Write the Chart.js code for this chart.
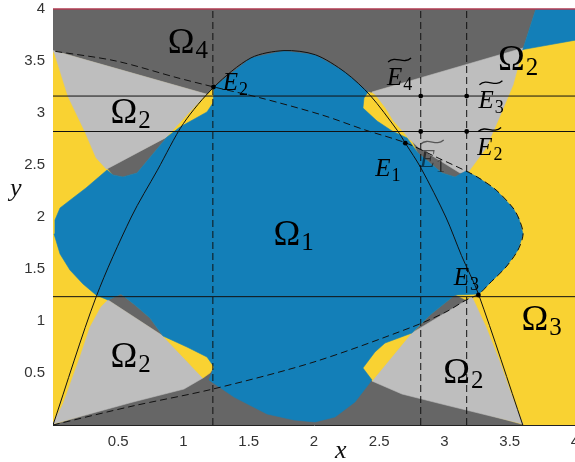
<!DOCTYPE html>
<html>
<head>
<meta charset="utf-8">
<script src="https://cdn.jsdelivr.net/npm/chart.js@4.4.0/dist/chart.umd.min.js"></script>
<style>
html, body { margin: 0; padding: 0; background: #fff; overflow: hidden; }
#wrap { width: 600px; height: 462px; }
</style>
</head>
<body>
<div id="wrap"><canvas id="regions" width="600" height="462"></canvas></div>
<script>
// ticks //
const xTicks = [0.5, 1, 1.5, 2, 2.5, 3, 3.5, 4];
const xTickLabels = ['0.5', '1', '1.5', '2', '2.5', '3', '3.5', '4'];
const yTicks = [0.5, 1, 1.5, 2, 2.5, 3, 3.5, 4];
const yTickLabels = ['0.5', '1', '1.5', '2', '2.5', '3', '3.5', '4'];

// regions as [x, y] //
const plotBox = [[0, 0], [4, 0], [4, 4], [0, 4]];
const darkTop = [[0, 4], [3.70, 4], [3.60, 3.61], [2.44, 3.20], [1.23, 3.25], [1.18, 3.18], [0, 3.6]];
const darkBottom = [[0, 0], [1.149, 0.452], [1.226, 0.54], [2.375, 0.54], [2.444, 0.423], [3.60, 0]];
const darkBumpUL = [[0.414, 2.471], [0.874, 2.769], [0.644, 2.423], [0.536, 2.385], [0.46, 2.404]];
const darkBumpLL = [[0.421, 1.202], [0.521, 1.26], [0.628, 1.154], [0.743, 1.029], [0.843, 0.856]];
const darkBumpLR = [[2.751, 0.875], [2.889, 1.058], [3.08, 1.25], [3.172, 1.192]];
const darkBumpUR = [[2.751, 2.74], [3.188, 2.442], [3.08, 2.385], [2.981, 2.423], [2.797, 2.615]];

const lightUL = [[0, 3.6], [1.18, 3.18], [0.874, 2.77], [0.41, 2.46], [0.33, 2.57], [0.245, 2.82], [0.115, 3.16], [0.015, 3.56]];
const lightLL = [[0, 0.01], [0.077, 0.202], [0.207, 0.654], [0.284, 0.942], [0.368, 1.135], [0.421, 1.202],
  [0.843, 0.856], [1.149, 0.452], [1.004, 0.346], [0.613, 0.221]];
const lightLR = [[2.444, 0.423], [2.751, 0.885], [2.966, 1.048], [3.172, 1.202], [3.211, 1.231], [3.318, 0.942],
  [3.418, 0.625], [3.51, 0.298], [3.594, 0.029], [3.602, 0.01], [3.011, 0.192], [2.674, 0.298]];
const lightUR = [[2.444, 3.202], [3.602, 3.625], [3.525, 3.269], [3.418, 2.952], [3.318, 2.663], [3.188, 2.442],
  [3.119, 2.423], [2.797, 2.673], [2.713, 2.769], [2.674, 2.827], [2.605, 2.923], [2.544, 3.048], [2.467, 3.173]];

const lobeUL = [[0.874, 2.769], [1.18, 3.183], [1.226, 3.096], [1.18, 3.01], [0.973, 2.865]];
const lobeLL = [[0.843, 0.856], [1.027, 0.75], [1.18, 0.654], [1.234, 0.558], [1.203, 0.5], [1.149, 0.452]];
const lobeLR = [[2.375, 0.548], [2.467, 0.702], [2.544, 0.788], [2.751, 0.894], [2.444, 0.423]];
const lobeUR = [[2.414, 3.202], [2.467, 3.173], [2.544, 3.048], [2.605, 2.923], [2.674, 2.827], [2.713, 2.769],
  [2.598, 2.827], [2.483, 2.923], [2.375, 3.048], [2.383, 3.144]];

const blueCorner = [[3.70, 4], [4, 4], [4, 3.70], [3.60, 3.61]];
const blueBlob = [[1.234, 3.25], [1.517, 3.529], [1.77, 3.596], [2.008, 3.558], [2.238, 3.394], [2.414, 3.202],
  [2.383, 3.144], [2.375, 3.048], [2.483, 2.923], [2.598, 2.827], [2.713, 2.76], [2.797, 2.615], [2.981, 2.423],
  [3.08, 2.385], [3.165, 2.442], [3.264, 2.375], [3.395, 2.26], [3.525, 2.087], [3.571, 1.981], [3.602, 1.837],
  [3.563, 1.683], [3.471, 1.519], [3.341, 1.356], [3.264, 1.26], [3.08, 1.25], [2.889, 1.058], [2.751, 0.885],
  [2.544, 0.788], [2.467, 0.702], [2.375, 0.548], [2.444, 0.433], [2.314, 0.221], [2.161, 0.077], [2.008, 0.029],
  [1.847, 0.048], [1.64, 0.106], [1.387, 0.269], [1.195, 0.433], [1.234, 0.558], [1.18, 0.654], [1.027, 0.75],
  [0.843, 0.856], [0.743, 1.029], [0.628, 1.154], [0.521, 1.26], [0.421, 1.202], [0.33, 1.25], [0.23, 1.356],
  [0.13, 1.49], [0.054, 1.644], [0.008, 1.837], [0.015, 1.971], [0.054, 2.087], [0.153, 2.183], [0.253, 2.279],
  [0.414, 2.452], [0.46, 2.404], [0.536, 2.385], [0.644, 2.423], [0.874, 2.769], [0.973, 2.865], [1.18, 3.01],
  [1.226, 3.096]];

// curves //
const solidCurve = [[0, 0], [0.33, 1.23], [0.60, 2.0], [0.80, 2.45], [1.0, 2.90], [1.234, 3.25], [1.517, 3.53],
  [1.77, 3.60], [2.01, 3.56], [2.24, 3.39], [2.43, 3.17], [2.64, 2.83], [2.70, 2.71], [2.82, 2.47], [3.01, 2.0],
  [3.13, 1.63], [3.26, 1.26], [3.60, 0]];
const dashedCurve = [[0, 0], [0.613, 0.183], [1.226, 0.346], [2.0, 0.606], [2.751, 0.942], [3.011, 1.087],
  [3.165, 1.202], [3.264, 1.26], [3.341, 1.356], [3.471, 1.519], [3.563, 1.683], [3.602, 1.837], [3.571, 1.981],
  [3.525, 2.087], [3.395, 2.26], [3.264, 2.375], [3.165, 2.442], [2.935, 2.577], [2.705, 2.712], [2.391, 2.837],
  [2.061, 2.981], [1.594, 3.144], [1.234, 3.25], [0.958, 3.337], [0.483, 3.5], [0, 3.596]];
const hLines = [3.163, 2.822, 1.234];
const vLines = [1.225, 2.818, 3.17];
const markers = [[2.70, 2.71], [1.23, 3.25], [3.26, 1.25], [2.818, 3.163], [3.17, 3.163], [2.818, 2.822], [3.17, 2.822]];

// labels //
const omegaLabels = [['4', 0.88, 3.58], ['2', 0.44, 2.90], ['1', 1.69, 1.73], ['2', 3.41, 3.41],
  ['2', 0.44, 0.56], ['2', 2.99, 0.40], ['3', 3.59, 0.91]];
const pointLabels = [['2', 1.30, 3.22, false], ['1', 2.47, 2.39, false], ['3', 3.07, 1.35, false],
  ['4', 2.56, 3.27, true], ['3', 3.26, 3.05, true], ['2', 3.25, 2.60, true], ['1', 2.81, 2.48, true]];

const YELLOW = '#f9d232', BLUE = '#137fb8', DARK = '#666666', LIGHT = '#bebebe';

const pts = a => a.map(([x, y]) => ({x, y}));

function area(poly, color, order) {
  return { data: pts(poly.concat([poly[0]])), backgroundColor: color, borderColor: color, borderWidth: 0.6,
    fill: 'shape', pointRadius: 0, tension: 0, order: order };
}
function curve(line, dash, order, tension) {
  return { data: pts(line), borderColor: '#111', borderWidth: 1, borderDash: dash, fill: false,
    pointRadius: 0, tension: tension, order: order };
}

const datasets = [
  area(plotBox, YELLOW, 50),
  area(darkTop, DARK, 40), area(darkBottom, DARK, 40),
  area(darkBumpUL, DARK, 39), area(darkBumpLL, DARK, 39), area(darkBumpLR, DARK, 39), area(darkBumpUR, DARK, 39),
  area(lightUL, LIGHT, 30), area(lightLL, LIGHT, 30), area(lightLR, LIGHT, 30), area(lightUR, LIGHT, 30),
  area(lobeUL, YELLOW, 20), area(lobeLL, YELLOW, 20), area(lobeLR, YELLOW, 20), area(lobeUR, YELLOW, 20),
  area(blueBlob, BLUE, 10), area(blueCorner, BLUE, 10),
  curve(solidCurve, [], 5, 0.3),
  curve(dashedCurve, [7, 4], 5, 0.3)
];
hLines.forEach(v => datasets.push(curve([[0, v], [4, v]], [], 4, 0)));
vLines.forEach(v => datasets.push(curve([[v, 0], [v, 4]], [7, 4], 4, 0)));
datasets.push({ data: pts([[0, 4], [4, 4]]), borderColor: '#b03a50', borderWidth: 1.5, pointRadius: 0, fill: false, clip: 3, order: 3 });
datasets.push({ data: pts(markers), showLine: false, pointRadius: 2.4, pointBackgroundColor: '#000',
  pointBorderWidth: 0, order: 1 });

const textLayer = {
  id: 'textLayer',
  afterDatasetsDraw(chart) {
    const {ctx, chartArea, scales: {x, y}} = chart;
    ctx.save();
    ctx.textBaseline = 'alphabetic';
    ctx.fillStyle = '#000';
    omegaLabels.forEach(([sub, vx, vy]) => {
      const px = x.getPixelForValue(vx), py = y.getPixelForValue(vy);
      ctx.font = '36px "Liberation Serif"';
      ctx.fillText('\u03A9', px, py);
      const w = ctx.measureText('\u03A9').width;
      ctx.font = '25px "Liberation Serif"';
      ctx.fillText(sub, px + w + 1, py + 5);
    });
    pointLabels.forEach(([sub, vx, vy, tilde]) => {
      const px = x.getPixelForValue(vx), py = y.getPixelForValue(vy);
      const faded = tilde && sub === '1';
      ctx.fillStyle = faded ? 'rgba(0,0,0,0.55)' : '#000';
      ctx.strokeStyle = ctx.fillStyle;
      ctx.font = 'italic 25px "Liberation Serif"';
      ctx.fillText('E', px, py);
      const w = ctx.measureText('E').width;
      ctx.font = '18px "Liberation Serif"';
      ctx.fillText(sub, px + w + 1, py + 5);
      if (tilde) {
        const x0 = px + 1, x1 = px + 24, yc = py - 25;
        ctx.lineWidth = 1.3;
        ctx.beginPath();
        ctx.moveTo(x0, yc + 2);
        ctx.bezierCurveTo(x0 + 8, yc - 5, x0 + 15, yc + 5, x1, yc - 2);
        ctx.stroke();
      }
    });
    ctx.fillStyle = '#111';
    ctx.font = 'italic 26px "Liberation Serif"';
    ctx.fillText('x', x.getPixelForValue(2.16), chartArea.bottom + 33);
    ctx.fillText('y', chartArea.left - 43, y.getPixelForValue(2.2));
    ctx.restore();
  }
};

new Chart(document.getElementById('regions'), {
  type: 'line',
  data: { datasets: datasets },
  options: {
    responsive: false,
    animation: false,
    events: [],
    devicePixelRatio: 1,
    layout: { padding: { left: 0, right: 25, top: 9, bottom: 0 } },
    plugins: { legend: { display: false }, tooltip: { enabled: false } },
    scales: {
      x: {
        type: 'linear', min: 0, max: 4, z: 1,
        grid: { display: false, drawTicks: false },
        border: { display: true, color: '#222', width: 1 },
        ticks: { autoSkip: false, maxRotation: 0, padding: 8, color: '#333',
          font: { family: 'Liberation Sans', size: 15 }, callback: (v, i) => xTickLabels[i] },
        afterBuildTicks: s => { s.ticks = xTicks.map(v => ({value: v})); },
        afterFit: s => { s.height = 37; s.paddingLeft = 0; s.paddingRight = 0; }
      },
      y: {
        type: 'linear', min: 0, max: 4,
        grid: { display: false, drawTicks: false },
        border: { display: false },
        ticks: { autoSkip: false, padding: 8, color: '#333',
          font: { family: 'Liberation Sans', size: 15 }, callback: (v, i) => yTickLabels[i] },
        afterBuildTicks: s => { s.ticks = yTicks.map(v => ({value: v})); },
        afterFit: s => { s.width = 53; s.paddingTop = 0; s.paddingBottom = 0; }
      }
    }
  },
  plugins: [textLayer]
});
</script>
</body>
</html>
